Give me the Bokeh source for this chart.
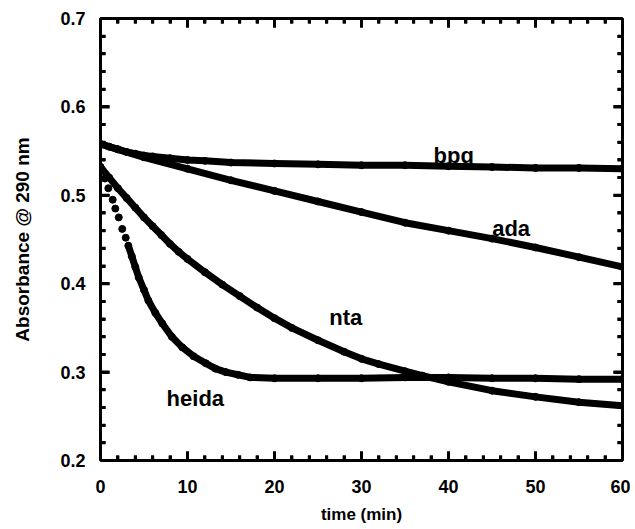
from bokeh.plotting import figure
from bokeh.models import Range1d, LinearAxis, FixedTicker, ColumnDataSource
from bokeh.models import Label
from bokeh.embed import file_html
from bokeh.resources import INLINE

# ---- data ----
bpg_t = [0, 1, 2, 3, 4, 5, 6, 8, 10, 12, 15, 20, 25, 30, 35, 40, 45, 50, 55, 60]
bpg_v = [0.558, 0.555, 0.552, 0.549, 0.547, 0.545, 0.544, 0.542, 0.540, 0.539,
         0.537, 0.536, 0.535, 0.534, 0.534, 0.533, 0.532, 0.531, 0.531, 0.530]

ada_t = [0, 2, 5, 10, 15, 20, 25, 30, 35, 40, 45, 50, 55, 60]
ada_v = [0.558, 0.552, 0.543, 0.530, 0.517, 0.505, 0.493, 0.481, 0.469,
         0.460, 0.451, 0.441, 0.430, 0.419]

nta_t = [0, 1, 2, 3, 4, 5, 6, 7, 8, 9, 10, 12, 14, 16, 18, 20, 22, 25, 28,
         30, 32, 35, 37, 40, 45, 50, 55, 60]
nta_v = [0.532, 0.520, 0.508, 0.497, 0.486, 0.475, 0.465, 0.455, 0.445, 0.436,
         0.428, 0.413, 0.399, 0.386, 0.373, 0.361, 0.350, 0.336, 0.323, 0.315,
         0.309, 0.301, 0.296, 0.289, 0.279, 0.272, 0.266, 0.262]

heida_t = [0, 0.5, 0.9, 1.4, 1.7, 2.1, 2.5, 2.9, 3.2, 3.6, 4.0, 4.4, 5.0, 5.5,
           6.3, 7.1, 8.2, 9.4, 10.7, 12.1, 13.2, 14.4, 15.8, 17.2, 20, 25, 30,
           35, 40, 45, 50, 55, 60]
heida_v = [0.532, 0.519, 0.508, 0.495, 0.485, 0.475, 0.462, 0.452, 0.443, 0.431,
           0.419, 0.407, 0.393, 0.381, 0.367, 0.355, 0.340, 0.328, 0.318, 0.310,
           0.304, 0.300, 0.297, 0.294, 0.293, 0.293, 0.293, 0.294, 0.294, 0.293,
           0.293, 0.292, 0.292]

series_names = ["bpg", "ada", "nta", "heida"]
name_t = [40.6, 47.2, 28.2, 10.9]
name_v = [0.545, 0.4624, 0.3618, 0.270]

x_major = [0, 10, 20, 30, 40, 50, 60]
y_major = [0.2, 0.3, 0.4, 0.5, 0.6, 0.7]

x_title = "time (min)"
y_title = "Absorbance @ 290 nm"

FONT = "Liberation Sans"
X0, X1, Y0, Y1 = 0, 60, 0.2, 0.7
W, H = 630, 529
BL, BR, BT, BB = 100, 8, 18, 69

p = figure(width=W, height=H, output_backend="svg", toolbar_location=None,
           x_range=Range1d(X0, X1), y_range=Range1d(Y0, Y1),
           min_border_left=BL, min_border_right=BR, min_border_top=BT,
           min_border_bottom=BB)
p.grid.visible = False
p.outline_line_color = "black"
p.outline_line_width = 2
p.background_fill_color = "white"
p.border_fill_color = "white"

x_minor = [round(a + k * 2, 6) for a in x_major[:-1] for k in range(1, 5)]
y_minor = [round(a + k * 0.02, 6) for a in y_major[:-1] for k in range(1, 5)]
xt = FixedTicker(ticks=x_major, minor_ticks=x_minor)
yt = FixedTicker(ticks=y_major, minor_ticks=y_minor)


def style_axis(ax, show_labels):
    ax.axis_line_width = 3
    ax.axis_line_color = "black"
    ax.major_tick_in = 9
    ax.major_tick_out = 0
    ax.minor_tick_in = 5
    ax.minor_tick_out = 0
    ax.major_tick_line_width = 3
    ax.minor_tick_line_width = 3
    ax.major_label_text_font = FONT
    ax.major_label_text_font_style = "bold"
    ax.major_label_text_color = "black"
    if show_labels:
        ax.major_label_text_font_size = "18px"
    else:
        ax.major_label_text_alpha = 0
        ax.major_label_text_font_size = "1px"
        ax.major_label_standoff = 0


p.xaxis.ticker = xt
p.yaxis.ticker = yt
style_axis(p.xaxis[0], True)
style_axis(p.yaxis[0], True)
p.xaxis.major_label_standoff = 19
p.yaxis.major_label_standoff = 15

p.xaxis.axis_label = x_title
p.xaxis.axis_label_text_font = FONT
p.xaxis.axis_label_text_font_style = "bold"
p.xaxis.axis_label_text_font_size = "17px"
p.xaxis.axis_label_text_color = "black"
p.xaxis.axis_label_standoff = 9

p.yaxis.axis_label = y_title
p.yaxis.axis_label_text_font = FONT
p.yaxis.axis_label_text_font_style = "bold"
p.yaxis.axis_label_text_font_size = "19px"
p.yaxis.axis_label_text_color = "black"
p.yaxis.axis_label_standoff = 24

top = LinearAxis(ticker=xt)
style_axis(top, False)
p.add_layout(top, "above")
right = LinearAxis(ticker=yt)
style_axis(right, False)
p.add_layout(right, "right")

# curves
p.line(bpg_t, bpg_v, line_width=7, color="black", line_join="round", line_cap="round")
p.scatter(bpg_t, bpg_v, size=7, color="black")
p.line(ada_t, ada_v, line_width=7, color="black", line_join="round", line_cap="round")
p.scatter(ada_t, ada_v, size=7, color="black")
p.line(nta_t, nta_v, line_width=7, color="black", line_join="round", line_cap="round")
p.scatter(nta_t, nta_v, size=7, color="black")
p.line(heida_t[8:], heida_v[8:], line_width=7, color="black", line_join="round", line_cap="round")
p.scatter(heida_t, heida_v, size=7, color="black")

# inward tick marks as small filled rectangles centred on the frame edges
MAJ, MIN, TW = 18, 10, 3
yy = y_major + y_minor
ylen = [MAJ] * len(y_major) + [MIN] * len(y_minor)
hsrc = ColumnDataSource(dict(x=[X0] * len(yy) + [X1] * len(yy), y=yy + yy, w=ylen + ylen))
p.rect(x="x", y="y", width="w", height=TW, width_units="screen", height_units="screen",
       source=hsrc, fill_color="black", line_color=None)
xx = x_major + x_minor
xlen = [MAJ] * len(x_major) + [MIN] * len(x_minor)
vsrc = ColumnDataSource(dict(x=xx + xx, y=[Y0] * len(xx) + [Y1] * len(xx), h=xlen + xlen))
p.rect(x="x", y="y", width=TW, height="h", width_units="screen", height_units="screen",
       source=vsrc, fill_color="black", line_color=None)

for nm, tx, vy in zip(series_names, name_t, name_v):
    p.add_layout(Label(x=tx, y=vy, text=nm, text_font=FONT, text_font_size="22px",
                       text_font_style="bold", text_color="black",
                       text_align="center", text_baseline="alphabetic"))

open("out.html", "w").write(file_html(p, INLINE))
